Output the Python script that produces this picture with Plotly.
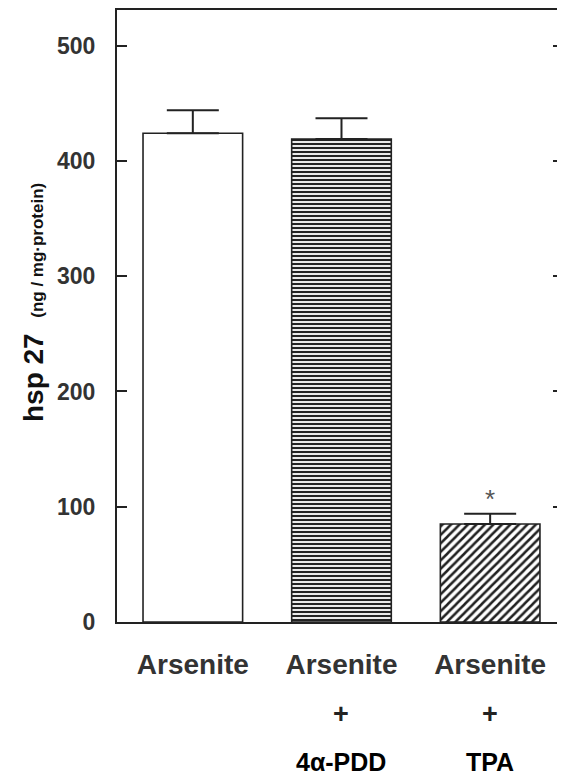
import plotly.graph_objects as go

categories = ["Arsenite", "Arsenite", "Arsenite"]
second_line = ["", "4α-PDD", "TPA"]
plus_signs = ["", "+", "+"]
values = [424, 419, 85]
errors = [20, 18, 9]
significance = ["", "", "*"]
y_ticks = [0, 100, 200, 300, 400, 500]

x_pos = [0, 1, 2]
shapes = ["", "-", "/"]
sizes = [8, 4, 6]
solid = [0.3, 0.55, 0.42]

# page body has an 8px default margin: size the figure to fit the window
W, H = 557, 769
L, R, T, B = 109, 2, 0, 155

fig = go.Figure()
fig.add_trace(go.Bar(
    x=x_pos, y=values, width=0.67,
    marker=dict(
        color="white",
        line=dict(color="#222", width=1.6),
        pattern=dict(shape=shapes, size=sizes, solidity=solid,
                     fgcolor="#222", bgcolor="white", fillmode="replace"),
    ),
    error_y=dict(type="data", array=errors, arrayminus=[0, 0, 0], symmetric=False,
                 width=26, thickness=2, color="#222"),
    showlegend=False,
))

ph = H - T - B
annotations = []
for i, (p, s, sig) in enumerate(zip(plus_signs, second_line, significance)):
    if p:
        annotations.append(dict(x=x_pos[i], y=-(714 - 622) / ph, xref="x", yref="paper", text="<b>" + p + "</b>",
                                showarrow=False, font=dict(size=27, color="#222", family="Liberation Sans, Arial"),
                                yanchor="middle"))
    if s:
        annotations.append(dict(x=x_pos[i], y=-(762 - 622) / ph, xref="x", yref="paper", text="<b>" + s + "</b>",
                                showarrow=False, font=dict(size=25, color="#000", family="Liberation Sans, Arial"),
                                yanchor="middle"))
    if sig:
        annotations.append(dict(x=x_pos[i], y=values[i] + errors[i] + 13, xref="x", yref="y", text=sig,
                                showarrow=False, font=dict(size=26, color="#555", family="Liberation Sans, Arial"),
                                yanchor="middle"))

annotations.append(dict(
    x=-84 / (W - L - R), y=(622 - 302) / ph, xref="paper", yref="paper", textangle=-90,
    text="<b>hsp 27</b>  <span style='font-size:17px'><b>(ng / mg·protein)</b></span>",
    showarrow=False, font=dict(size=28, color="#111", family="Liberation Sans, Arial"),
    xanchor="center", yanchor="middle",
))

fig.update_layout(
    width=W, height=H,
    margin=dict(l=L, r=R, t=T, b=B),
    paper_bgcolor="white", plot_bgcolor="white",
    font=dict(family="Liberation Sans, Arial", color="#333"),
    annotations=annotations,
    xaxis=dict(
        range=[-0.51, 2.49], tickmode="array", tickvals=x_pos,
        ticktext=["<b>" + c + "</b>" for c in categories],
        tickfont=dict(size=28, color="#333"),
        showline=True, linecolor="#222", linewidth=2, mirror=True,
        ticks="", showgrid=False, zeroline=False, ticklabelstandoff=16,
    ),
    yaxis=dict(
        range=[0, 531], tickmode="array", tickvals=y_ticks,
        ticktext=["<b>%d</b>" % v for v in y_ticks],
        tickfont=dict(size=23, color="#333"),
        showline=True, linecolor="#222", linewidth=2, mirror="ticks",
        ticks="inside", ticklen=10, tickwidth=2, tickcolor="#222",
        showgrid=False, zeroline=False, ticklabelstandoff=15,
    ),
)

fig.write_html("out.html")
